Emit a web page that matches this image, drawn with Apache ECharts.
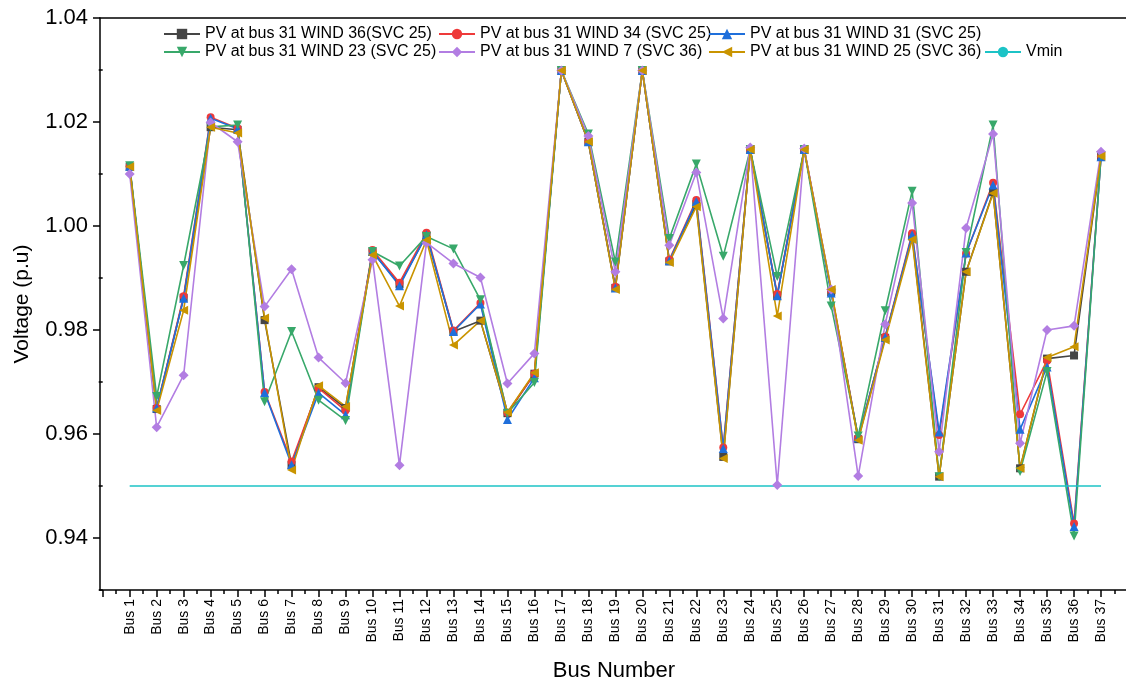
<!DOCTYPE html>
<html>
<head>
<meta charset="utf-8">
<script src="https://cdn.jsdelivr.net/npm/echarts@6/dist/echarts.min.js"></script>
<style>
html,body{margin:0;padding:0;background:#fff;overflow:hidden;}
#main{width:1126px;height:679px;}
</style>
</head>
<body>
<div id="main"></div>
<script>
const categories = ["Bus 1","Bus 2","Bus 3","Bus 4","Bus 5","Bus 6","Bus 7","Bus 8","Bus 9","Bus 10","Bus 11","Bus 12","Bus 13","Bus 14","Bus 15","Bus 16","Bus 17","Bus 18","Bus 19","Bus 20","Bus 21","Bus 22","Bus 23","Bus 24","Bus 25","Bus 26","Bus 27","Bus 28","Bus 29","Bus 30","Bus 31","Bus 32","Bus 33","Bus 34","Bus 35","Bus 36","Bus 37"];

const wind36 = [1.0114,0.9648,0.9862,1.0190,1.0185,0.9819,0.9540,0.9690,0.9650,0.9950,0.9888,0.9982,0.9797,0.9818,0.9640,0.9716,1.0299,1.0162,0.9881,1.0299,0.9932,1.0042,0.9556,1.0147,0.9866,1.0147,0.9873,0.9590,0.9785,0.9980,0.9518,0.9912,1.0065,0.9534,0.9745,0.9751,1.0134];
const wind34 = [1.0115,0.9650,0.9865,1.0209,1.0188,0.9681,0.9547,0.9688,0.9645,0.9954,0.9891,0.9987,0.9799,0.9852,0.9641,0.9716,1.0299,1.0162,0.9883,1.0299,0.9935,1.0050,0.9574,1.0147,0.9869,1.0148,0.9876,0.9593,0.9787,0.9986,0.9598,0.9947,1.0083,0.9638,0.9741,0.9428,1.0134];
const wind31 = [1.0115,0.9650,0.9861,1.0207,1.0187,0.9680,0.9541,0.9679,0.9637,0.9951,0.9885,0.9983,0.9797,0.9850,0.9628,0.9708,1.0299,1.0162,0.9881,1.0299,0.9933,1.0047,0.9572,1.0147,0.9866,1.0147,0.9871,0.9593,0.9786,0.9983,0.9604,0.9948,1.0079,0.9609,0.9729,0.9422,1.0133];
const wind23 = [1.0116,0.9672,0.9924,1.0191,1.0194,0.9662,0.9797,0.9665,0.9626,0.9951,0.9923,0.9980,0.9956,0.9858,0.9640,0.9699,1.0299,1.0177,0.9931,1.0299,0.9976,1.0119,0.9942,1.0147,0.9903,1.0147,0.9846,0.9596,0.9837,1.0067,0.9518,0.9949,1.0194,0.9528,0.9720,0.9404,1.0135];
const wind7 = [1.0100,0.9613,0.9713,1.0199,1.0162,0.9845,0.9917,0.9747,0.9698,0.9935,0.9540,0.9968,0.9928,0.9901,0.9697,0.9755,1.0299,1.0173,0.9912,1.0299,0.9963,1.0103,0.9822,1.0151,0.9502,1.0149,0.9878,0.9519,0.9811,1.0044,0.9566,0.9996,1.0177,0.9582,0.9800,0.9808,1.0143];
const wind25 = [1.0114,0.9645,0.9838,1.0190,1.0179,0.9823,0.9531,0.9693,0.9653,0.9944,0.9846,0.9973,0.9771,0.9818,0.9642,0.9718,1.0299,1.0162,0.9878,1.0299,0.9930,1.0037,0.9553,1.0147,0.9827,1.0147,0.9878,0.9588,0.9781,0.9974,0.9518,0.9912,1.0063,0.9534,0.9747,0.9768,1.0134];
const vmin = 0.95;

const yTicks = [0.94,0.96,0.98,1.00,1.02,1.04];
const yMinorTicks = [0.93,0.95,0.97,0.99,1.01,1.03];

const nCat = categories.length;
const xMajorTicks = []; for (let i = 0; i <= nCat + 1; i++) xMajorTicks.push(i);
const xMinorTicks = []; for (let i = 0; i <= nCat; i++) xMinorTicks.push(i + 0.5);
const xLabelPos = categories.map((c, i) => i + 1);

const seriesDefs = [
  {name:'PV at bus 31 WIND 36(SVC 25)', data:wind36, color:'#454545', symbol:'rect', rot:0, size:8},
  {name:'PV at bus 31 WIND 34 (SVC 25)', data:wind34, color:'#EE3A3A', symbol:'circle', rot:0, size:8},
  {name:'PV at bus 31 WIND 31 (SVC 25)', data:wind31, color:'#1F6FDB', symbol:'triangle', rot:0, size:9},
  {name:'PV at bus 31 WIND 23 (SVC 25)', data:wind23, color:'#38A86A', symbol:'triangle', rot:180, size:9},
  {name:'PV at bus 31 WIND 7 (SVC 36)', data:wind7, color:'#B27DE2', symbol:'diamond', rot:0, size:10},
  {name:'PV at bus 31 WIND 25 (SVC 36)', data:wind25, color:'#C99400', symbol:'triangle', rot:90, size:9}
];

const FONT = 'Liberation Sans, Arial, sans-serif';

const series = seriesDefs.map(d => ({
  name: d.name,
  type: 'line',
  data: d.data.map((v,i) => [i+1, v]),
  symbol: d.symbol,
  symbolRotate: d.rot,
  symbolSize: d.size,
  showSymbol: true,
  lineStyle: {color: d.color, width: 1.6},
  itemStyle: {color: d.color},
  animation: false
}));
series.push({
  name: 'Vmin',
  type: 'line',
  data: [[1, vmin],[nCat, vmin]],
  symbol: 'none',
  lineStyle: {color:'#1CC3C6', width: 1.6},
  itemStyle: {color:'#1CC3C6'},
  animation: false
});

const legendPos = [
  {left:163, top:26},{left:438, top:26},{left:708, top:26},
  {left:163, top:44},{left:438, top:44},{left:708, top:44},{left:984, top:44}
];
const legendNames = seriesDefs.map(d=>d.name).concat(['Vmin']);
const legends = legendNames.map((n,i) => ({
  data:[n], left: legendPos[i].left, top: legendPos[i].top,
  itemWidth: 36, itemHeight: 13, itemGap: 0, padding: 0,
  textStyle: {fontFamily: FONT, fontSize: 16, color:'#000'}
}));

const axisLineStyle = {color:'#000', width:1.5};
const XMIN = -0.1, XMAX = nCat + 1;

const chart = echarts.init(document.getElementById('main'), null, {renderer:'canvas'});
chart.setOption({
  backgroundColor: '#fff',
  animation: false,
  legend: legends,
  grid: {left: 100, top: 18, right: -2, bottom: 89, show: false, containLabel:false, outerBoundsMode:'none'},
  xAxis: [{
    type: 'value', min: XMIN, max: XMAX, position: 'bottom',
    axisLine: {show:true, onZero:false, lineStyle: axisLineStyle},
    axisTick: {show:true, inside:false, length:7, customValues: xMajorTicks, lineStyle: axisLineStyle},
    splitLine: {show:false},
    axisLabel: {
      customValues: xLabelPos,
      rotate: 90, fontFamily: FONT, fontSize: 14, color:'#000', margin: 9,
      formatter: v => categories[Math.round(v) - 1] || ''
    },
    name: 'Bus Number', nameLocation: 'middle', nameGap: 70,
    nameTextStyle: {fontFamily: FONT, fontSize: 22, color:'#000'}
  },{
    type: 'value', min: XMIN, max: XMAX, position: 'bottom',
    axisLine: {show:false, onZero:false},
    axisTick: {show:true, inside:false, length:4, customValues: xMinorTicks, lineStyle: axisLineStyle},
    axisLabel: {show:false},
    splitLine: {show:false}
  },{
    type: 'value', min: XMIN, max: XMAX, position: 'top',
    axisLine: {show:true, onZero:false, lineStyle: axisLineStyle},
    axisTick: {show:false},
    axisLabel: {show:false},
    splitLine: {show:false}
  }],
  yAxis: [{
    type: 'value', min: 0.93, max: 1.04,
    axisLine: {show:true, onZero:false, lineStyle: axisLineStyle},
    axisTick: {show:true, length:7, customValues: yTicks, lineStyle: axisLineStyle},
    axisLabel: {customValues: yTicks, fontFamily: FONT, fontSize: 22, color:'#000', margin: 12, formatter: v => v.toFixed(2)},
    splitLine: {show:false},
    name: 'Voltage (p.u)', nameLocation: 'middle', nameGap: 67,
    nameTextStyle: {fontFamily: FONT, fontSize: 21, color:'#000'}
  },{
    type: 'value', min: 0.93, max: 1.04, position: 'left',
    axisLine: {show:false},
    axisTick: {show:true, length:4, customValues: yMinorTicks, lineStyle: axisLineStyle},
    axisLabel: {show:false},
    splitLine: {show:false}
  }],
  series: series
});
</script>
</body>
</html>
